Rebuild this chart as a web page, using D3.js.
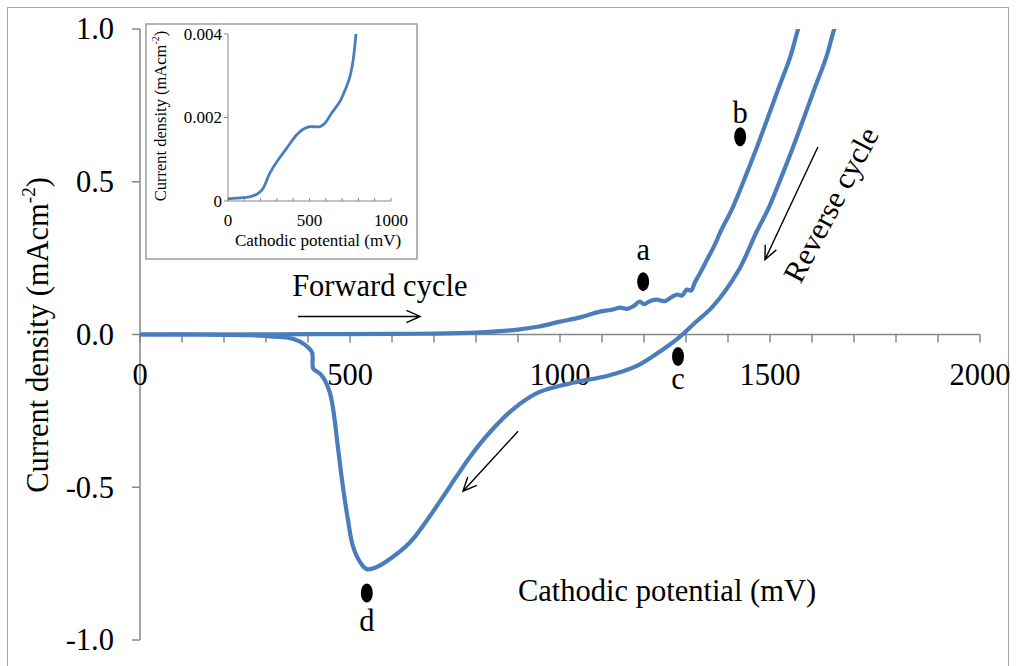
<!DOCTYPE html>
<html><head><meta charset="utf-8">
<script src="https://cdn.jsdelivr.net/npm/d3@7"></script>
<style>
html,body{margin:0;padding:0;background:#fff;}
text{font-family:"Liberation Serif","Times New Roman",serif;fill:#000;}
</style></head>
<body><svg id="c" width="1017" height="666"></svg>
<script>
// ---------- data ----------
const forwardX = [0,200,400,600,700,800,850,900,950,1000,1048,1095,1120,1143,1160,1175,1190,1200,1215,1231,1250,1265,1279,1290,1302,1312,1321,1333,1350,1369,1381,1412,1445,1469,1493,1519,1548,1567,1590];
const forwardY = [0,0,0.001,0.002,0.003,0.006,0.01,0.016,0.026,0.042,0.056,0.075,0.08,0.088,0.084,0.093,0.108,0.099,0.11,0.114,0.109,0.122,0.131,0.127,0.147,0.144,0.17,0.2,0.245,0.295,0.333,0.418,0.529,0.614,0.703,0.801,0.908,1.0,1.1];
const reverseX = [1675,1653,1634,1605,1579,1555,1531,1498,1467,1426,1364,1317,1286,1245,1183,1112,1048,1000,945,888,833,786,738,690,643,595,564,540,524,507,495,483,471,460,452,440,430,420,412,410,400,381,350,310,262,150,0];
const reverseY = [1.08,1.0,0.908,0.801,0.703,0.614,0.529,0.418,0.333,0.212,0.092,0.033,-0.007,-0.049,-0.103,-0.136,-0.153,-0.168,-0.192,-0.245,-0.32,-0.40,-0.497,-0.595,-0.68,-0.735,-0.761,-0.768,-0.745,-0.693,-0.605,-0.497,-0.366,-0.245,-0.19,-0.15,-0.13,-0.12,-0.11,-0.06,-0.042,-0.023,-0.01,-0.006,-0.002,0,0];
const insetX = [0,50,133,184,215,256,307,359,420,461,502,564,594,635,686,727,748,768,785];
const insetY = [0.00005,0.00007,0.0001,0.00018,0.0003,0.00066,0.00098,0.00126,0.00158,0.00172,0.00178,0.00178,0.00186,0.0021,0.00238,0.00274,0.00298,0.00338,0.004];
const xTickLabels = ["0","500","1000","1500","2000"];
const xTickValues = [0,500,1000,1500,2000];
const yTickLabels = ["-1.0","-0.5","0.0","0.5","1.0"];
const yTickValues = [-1,-0.5,0,0.5,1];
const insetXTickValues = [0,500,1000];
const insetXTickLabels = ["0","500","1000"];
const insetYTickValues = [0,0.002,0.004];
const insetYTickLabels = ["0","0.002","0.004"];
const pointLabels = ["a","b","c","d"];
const pointX = [1198,1429,1281,540];
const pointY = [0.173,0.647,-0.072,-0.846];
const pointLabelY = [0.245,0.693,-0.18,-0.97];

// ---------- layout ----------
const svg = d3.select("#c");
const blue = "#4a7ebb", axisCol = "#868686";
const FS = 30.5;
const x = d3.scaleLinear([0,2000],[140,980]);
const y = d3.scaleLinear([-1,1],[640,29]);

// outer frame
svg.append("rect").attr("x",7.5).attr("y",7.5).attr("width",1001).attr("height",700)
  .attr("fill","none").attr("stroke","#a6a6a6").attr("stroke-width",1);

svg.append("defs").append("clipPath").attr("id","pc")
  .append("rect").attr("x",138).attr("y",y(1)).attr("width",845).attr("height",y(-1)-y(1)+4);

// y axis
const gy = svg.append("g");
gy.append("line").attr("x1",x(0)).attr("x2",x(0)).attr("y1",y(1)).attr("y2",y(-1))
  .attr("stroke",axisCol).attr("stroke-width",1.5);
yTickValues.forEach((v,i)=>{
  gy.append("line").attr("x1",x(0)-8).attr("x2",x(0)).attr("y1",y(v)).attr("y2",y(v))
    .attr("stroke",axisCol).attr("stroke-width",1.5);
  gy.append("text").attr("x",114).attr("y",y(v)).attr("dy","0.34em")
    .attr("text-anchor","end").attr("font-size",FS).text(yTickLabels[i]);
});
// x axis at y=0
const gx = svg.append("g");
gx.append("line").attr("x1",x(0)).attr("x2",x(2000)).attr("y1",y(0)).attr("y2",y(0))
  .attr("stroke",axisCol).attr("stroke-width",1.5);
d3.range(0,2001,100).forEach(v=>{
  gx.append("line").attr("x1",x(v)).attr("x2",x(v)).attr("y1",y(0)).attr("y2",y(0)+8)
    .attr("stroke",axisCol).attr("stroke-width",1.5);
});
xTickValues.forEach((v,i)=>{
  gx.append("text").attr("x",x(v)).attr("y",y(0)+50).attr("text-anchor","middle")
    .attr("font-size",FS).text(xTickLabels[i]);
});

// curves
const line = d3.line().x(d=>x(d[0])).y(d=>y(d[1])).curve(d3.curveCatmullRom.alpha(0.5));
const cg = svg.append("g").attr("clip-path","url(#pc)");
cg.append("path").datum(reverseX.map((v,i)=>[v,reverseY[i]])).attr("d",line)
  .attr("fill","none").attr("stroke",blue).attr("stroke-width",4.2).attr("stroke-linejoin","round");
cg.append("path").datum(forwardX.map((v,i)=>[v,forwardY[i]])).attr("d",line)
  .attr("fill","none").attr("stroke",blue).attr("stroke-width",4.2).attr("stroke-linejoin","round");

// axis titles
svg.append("text").attr("transform","translate(48,335) rotate(-90)").attr("text-anchor","middle")
  .attr("font-size",FS)
  .call(t=>{t.append("tspan").text("Current density (mAcm");
            t.append("tspan").attr("font-size",19).attr("dy",-13).text("-2");
            t.append("tspan").attr("dy",13).text(")");});
svg.append("text").attr("x",667).attr("y",601).attr("text-anchor","middle").attr("font-size",FS)
  .text("Cathodic potential (mV)");

// annotations
function arrow(x1,y1,x2,y2){
  const X1=x(x1),Y1=y(y1),X2=x(x2),Y2=y(y2);
  const a=Math.atan2(Y2-Y1,X2-X1), L=15, w=0.42;
  const p=`M${X1},${Y1}L${X2},${Y2}M${X2-L*Math.cos(a-w)},${Y2-L*Math.sin(a-w)}L${X2},${Y2}L${X2-L*Math.cos(a+w)},${Y2-L*Math.sin(a+w)}`;
  svg.append("path").attr("d",p).attr("fill","none").attr("stroke","#000").attr("stroke-width",1.4);
}
arrow(376,0.059,667,0.059);
arrow(900,-0.317,769,-0.513);
arrow(1614,0.614,1488,0.245);
svg.append("text").attr("x",x(571)).attr("y",y(0.125)).attr("text-anchor","middle").attr("font-size",FS)
  .text("Forward cycle");
svg.append("text").attr("transform",`translate(${x(1645)},${y(0.425)}) rotate(-62.3)`)
  .attr("text-anchor","middle").attr("dy","0.34em").attr("font-size",FS).text("Reverse cycle");

pointLabels.forEach((l,i)=>{
  svg.append("ellipse").attr("cx",x(pointX[i])).attr("cy",y(pointY[i])).attr("rx",6).attr("ry",9.5).attr("fill","#000");
  svg.append("text").attr("x",x(pointX[i])).attr("y",y(pointLabelY[i])).attr("text-anchor","middle")
    .attr("font-size",FS).text(l);
});

// inset
const IFS = 17;
const ix = d3.scaleLinear([0,1000],[228,391]);
const iy = d3.scaleLinear([0,0.004],[201,34]);
const ins = svg.append("g");
ins.append("rect").attr("x",146).attr("y",24).attr("width",271).attr("height",235)
  .attr("fill","#fff").attr("stroke",axisCol).attr("stroke-width",1.2);
ins.append("line").attr("x1",ix(0)).attr("x2",ix(0)).attr("y1",iy(0.004)).attr("y2",iy(0))
  .attr("stroke",axisCol).attr("stroke-width",1);
ins.append("line").attr("x1",ix(0)).attr("x2",ix(1000)).attr("y1",iy(0)).attr("y2",iy(0))
  .attr("stroke",axisCol).attr("stroke-width",1);
d3.range(0,1001,100).forEach(v=>{
  ins.append("line").attr("x1",ix(v)).attr("x2",ix(v)).attr("y1",iy(0)).attr("y2",iy(0)-3)
    .attr("stroke",axisCol).attr("stroke-width",1);
});
insetYTickValues.forEach((v,i)=>{
  ins.append("line").attr("x1",ix(0)-4).attr("x2",ix(0)).attr("y1",iy(v)).attr("y2",iy(v))
    .attr("stroke",axisCol).attr("stroke-width",1);
  ins.append("text").attr("x",222).attr("y",iy(v)).attr("dy","0.34em").attr("text-anchor","end")
    .attr("font-size",IFS).text(insetYTickLabels[i]);
});
insetXTickValues.forEach((v,i)=>{
  ins.append("text").attr("x",ix(v)).attr("y",iy(0)+25).attr("text-anchor","middle")
    .attr("font-size",IFS).text(insetXTickLabels[i]);
});
const iline = d3.line().x(d=>ix(d[0])).y(d=>iy(d[1])).curve(d3.curveCatmullRom.alpha(0.5));
ins.append("path").datum(insetX.map((v,i)=>[v,insetY[i]])).attr("d",iline)
  .attr("fill","none").attr("stroke",blue).attr("stroke-width",2.8);
ins.append("text").attr("x",318).attr("y",246).attr("text-anchor","middle").attr("font-size",IFS)
  .text("Cathodic potential (mV)");
ins.append("text").attr("transform","translate(166,116) rotate(-90)").attr("text-anchor","middle")
  .attr("font-size",16.5)
  .call(t=>{t.append("tspan").text("Current density (mAcm");
            t.append("tspan").attr("font-size",10).attr("dy",-7).text("-2");
            t.append("tspan").attr("dy",7).text(")");});
</script></body></html>
